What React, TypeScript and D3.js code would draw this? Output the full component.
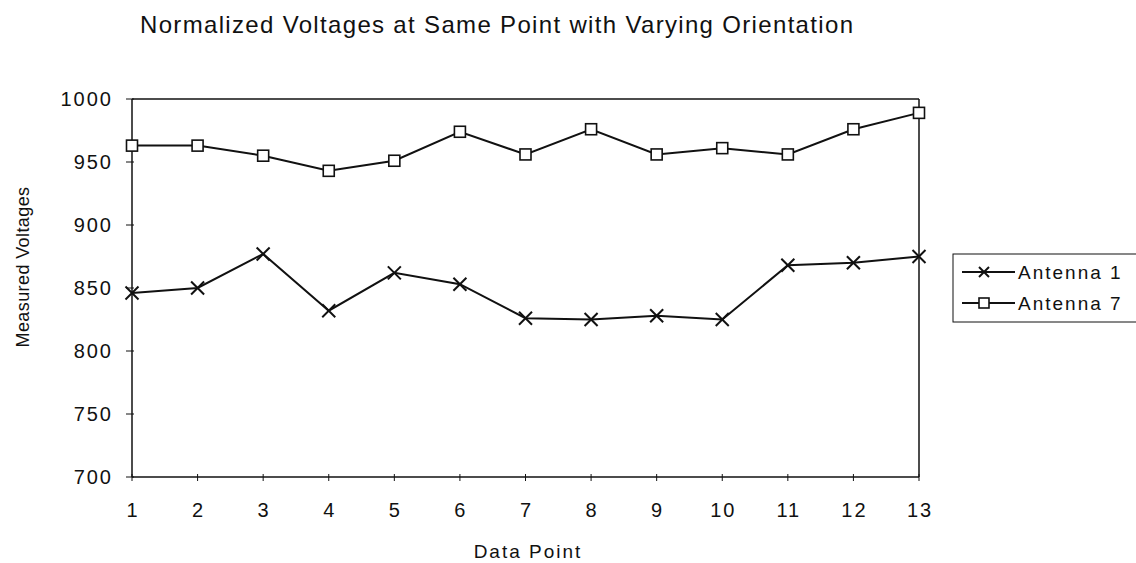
import * as d3 from "d3";

// категории по оси X
const dataPoints = [1, 2, 3, 4, 5, 6, 7, 8, 9, 10, 11, 12, 13];

// значения серий
const antenna1 = [846, 850, 877, 832, 862, 853, 826, 825, 828, 825, 868, 870, 875];
const antenna7 = [963, 963, 955, 943, 951, 974, 956, 976, 956, 961, 956, 976, 989];

const yTicks = [700, 750, 800, 850, 900, 950, 1000];

const seriesNames = ["Antenna 1", "Antenna 7"];

const W = 1136;
const H = 563;

const margin = { top: 99, bottom: 86, left: 132, right: 217 };

const font = "'Liberation Sans', Arial, sans-serif";
const ink = "#111";

const XMark = ({ x, y, r = 6.5 }: { x: number; y: number; r?: number }) => (
    <g stroke={ink} strokeWidth={2}>
        <line x1={x - r} y1={y - r} x2={x + r} y2={y + r} />
        <line x1={x - r} y1={y + r} x2={x + r} y2={y - r} />
    </g>
);

const SquareMark = ({ x, y, s = 11 }: { x: number; y: number; s?: number }) => (
    <rect x={x - s / 2} y={y - s / 2} width={s} height={s} fill="#fff" stroke={ink} strokeWidth={1.6} />
);

export default function App() {
    const boundsWidth = W - margin.left - margin.right;
    const boundsHeight = H - margin.top - margin.bottom;

    const scaleX = d3.scalePoint<number>()
        .domain(dataPoints)
        .range([margin.left, margin.left + boundsWidth]);

    const scaleY = d3.scaleLinear()
        .domain([700, 1000])
        .range([margin.top + boundsHeight, margin.top]);

    const lineGen = d3.line<number>()
        .x((_, i) => scaleX(dataPoints[i]) as number)
        .y(d => scaleY(d));

    const x0 = margin.left;
    const x1 = margin.left + boundsWidth;
    const y0 = margin.top + boundsHeight;
    const y1 = margin.top;

    return (
        <svg width={W} height={H} style={{ position: "absolute", left: 0, top: 0, background: "#fff" }}>
            <rect x={0} y={0} width={W} height={H} fill="#fff" />

            {/* заголовок */}
            <text x={140} y={33} fontFamily={font} fontSize={24} textLength={713}
                lengthAdjust="spacing" fill={ink}>
                Normalized Voltages at Same Point with Varying Orientation
            </text>

            {/* рамка области графика */}
            <line x1={x0} y1={y1} x2={x1} y2={y1} stroke={ink} strokeWidth={1.5} />
            <line x1={x1} y1={y1} x2={x1} y2={y0} stroke={ink} strokeWidth={1.5} />
            <line x1={x0} y1={y1} x2={x0} y2={y0} stroke={ink} strokeWidth={1.5} />
            <line x1={x0} y1={y0} x2={x1} y2={y0} stroke={ink} strokeWidth={1.5} />

            {/* ось Y */}
            {yTicks.map(t => (
                <g key={t}>
                    <line x1={x0 - 6} x2={x0 + 2} y1={scaleY(t)} y2={scaleY(t)} stroke={ink} strokeWidth={1} />
                    <text x={x0 - 19} y={scaleY(t)} dy="0.36em" textAnchor="end" fontFamily={font}
                        fontSize={20} letterSpacing={2} fill={ink}>
                        {t}
                    </text>
                </g>
            ))}

            {/* ось X */}
            {dataPoints.map(d => (
                <g key={d}>
                    <line x1={scaleX(d)} x2={scaleX(d)} y1={y0 - 3} y2={y0 + 4} stroke={ink} strokeWidth={1} />
                    <text x={(scaleX(d) as number) + 1} y={517} textAnchor="middle" fontFamily={font}
                        fontSize={20} letterSpacing={2} fill={ink}>
                        {d}
                    </text>
                </g>
            ))}

            {/* подписи осей */}
            <text x={528} y={558} textAnchor="middle" fontFamily={font} fontSize={19}
                letterSpacing={2} fill={ink}>
                Data Point
            </text>
            <text transform={`translate(29, 267) rotate(-90)`} textAnchor="middle"
                fontFamily={font} fontSize={18} letterSpacing={0.4} fill={ink}>
                Measured Voltages
            </text>

            {/* линии серий */}
            <path d={lineGen(antenna1) ?? ""} fill="none" stroke={ink} strokeWidth={2} />
            <path d={lineGen(antenna7) ?? ""} fill="none" stroke={ink} strokeWidth={2} />

            {antenna1.map((v, i) => (
                <XMark key={"a1" + i} x={scaleX(dataPoints[i]) as number} y={scaleY(v)} />
            ))}
            {antenna7.map((v, i) => (
                <SquareMark key={"a7" + i} x={scaleX(dataPoints[i]) as number} y={scaleY(v)} />
            ))}

            {/* легенда */}
            <rect x={953} y={254} width={190} height={68} fill="#fff" stroke={ink} strokeWidth={1} />
            {seriesNames.map((name, i) => {
                const ly = 272 + i * 31;
                return (
                    <g key={name}>
                        <line x1={962} x2={1015} y1={ly} y2={ly} stroke={ink} strokeWidth={2} />
                        {i === 0 ? <XMark x={984} y={ly} r={5} /> : <SquareMark x={984} y={ly} s={10} />}
                        <text x={1018} y={ly} dy="0.36em" fontFamily={font} fontSize={19}
                            letterSpacing={2} fill={ink}>
                            {name}
                        </text>
                    </g>
                );
            })}
        </svg>
    );
}
